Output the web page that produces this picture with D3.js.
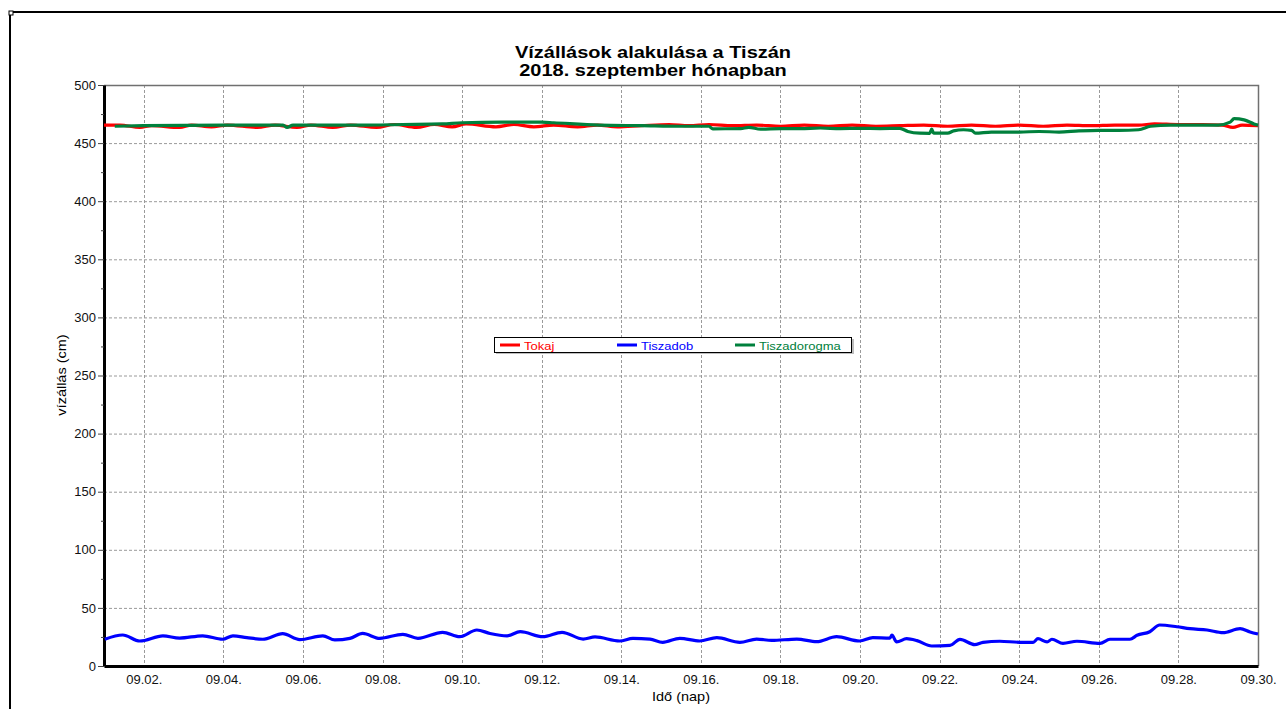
<!DOCTYPE html>
<html>
<head>
<meta charset="utf-8">
<script src="https://cdn.jsdelivr.net/npm/d3@7"></script>
<style>
  body { margin: 0; background: #fff; }
  svg { display: block; font-family: Arial, "Liberation Sans", sans-serif; }
</style>
</head>
<body>
<div id="main"></div>
<script>
// chart texts
const titleLines = ['Vízállások alakulása a Tiszán', '2018. szeptember hónapban'];
const yLabel = 'vízállás (cm)';
const xLabel = 'Idő (nap)';
const seriesNames = ['Tokaj', 'Tiszadob', 'Tiszadorogma'];
const seriesColors = ['#ff0000', '#0000ff', '#00803c'];
// tick labels
const xTickLabels = ['09.02.', '09.04.', '09.06.', '09.08.', '09.10.', '09.12.', '09.14.',
  '09.16.', '09.18.', '09.20.', '09.22.', '09.24.', '09.26.', '09.28.', '09.30.'];
const yTicks = [0, 50, 100, 150, 200, 250, 300, 350, 400, 450, 500];
const yMinorTicks = [25, 75, 125, 175, 225, 275, 325, 375, 425, 475];

// Tokaj: days since 09.01. 00:00, water level (cm)
const tokajDay = [0, 0.4, 0.9, 1.2, 1.9, 2.2, 2.7, 3.1, 3.85, 4.3, 4.85, 5.2, 5.75, 6.2, 6.85,
  7.3, 7.85, 8.3, 8.75, 9.1, 9.85, 10.3, 10.8, 11.3, 11.9, 12.4, 12.9, 13.5, 14.2, 14.7, 15.2,
  15.8, 16.4, 17.0, 17.6, 18.2, 18.8, 19.4, 20.0, 20.6, 21.2, 21.8, 22.4, 23.0, 23.6, 24.2,
  24.8, 25.4, 26.0, 26.4, 27.0, 27.6, 28.1, 28.37, 28.6, 29.0];
const tokajLevel = [465.5, 465.5, 463.5, 465, 463.5, 465.5, 464, 465.5, 463.5, 465.5, 463.5, 465.5, 463.5, 465.5, 463.5,
  466, 463.5, 466, 464, 466.5, 464, 466, 464, 465.5, 464, 465.5, 464, 465, 466, 465, 466,
  465, 465.5, 464.5, 465.5, 464.5, 465.5, 464.5, 465, 465.5, 464.5, 465.5, 464.5, 465.5, 464.5, 465.5,
  465, 465.5, 465.5, 466.5, 466, 466, 465.5, 463.5, 465.5, 465];

// Tiszadob
const tiszadobDay = [0.02, 0.47, 0.90, 1.48, 1.90, 2.48, 2.98, 3.24, 3.59, 3.99, 4.49, 4.92, 5.50,
  5.80, 6.18, 6.50, 6.93, 7.51, 7.89, 8.51, 8.94, 9.37, 9.70, 10.13, 10.46, 11.03, 11.51, 12.04,
  12.34, 12.96, 13.29, 13.72, 14.04, 14.47, 14.97, 15.40, 15.98, 16.40, 16.78, 17.41, 17.91,
  18.41, 18.99, 19.32, 19.75, 19.80, 19.92, 20.17, 20.43, 20.80, 21.26, 21.51, 21.88, 22.09,
  22.51, 23.02, 23.35, 23.47, 23.70, 23.82, 24.10, 24.45, 25.03, 25.28, 25.78, 25.96, 26.28,
  26.53, 26.96, 27.29, 27.72, 28.12, 28.55, 28.80, 29.00];
const tiszadobLevel = [23, 26.7, 21.5, 26, 24, 26, 23, 26, 24.4, 23, 27.8, 22.7, 26,
  22.4, 23.8, 28, 23.8, 27.3, 23.8, 29, 25.2, 31, 28, 26, 29.5, 25.2, 29, 23.2,
  25, 21.5, 23.8, 23.2, 20.4, 23.8, 21.5, 24.4, 20.4, 23.2, 22, 23.2, 21,
  25.2, 21.5, 24.4, 24, 26.5, 20.7, 23.5, 21.8, 17.2, 17.8, 22.9, 18.4, 20.4,
  21.3, 20.4, 20.4, 23.5, 20.7, 23, 19.5, 21.3, 19.5, 23, 23, 26.4, 29.5,
  35.3, 33.8, 32.1, 31, 28.7, 32.1, 29.3, 27.5];

// Tiszadorogma
const tiszadorogmaDay = [0.27, 1, 2, 3, 4, 4.5, 4.6, 4.75, 5.5, 6.5, 7.5, 8.5, 9, 10, 11, 11.3,
  12.45, 13.5, 14.5, 15.2, 15.3, 16, 16.2, 16.5, 17, 17.5, 18, 18.5, 19, 19.5, 20.0, 20.2, 20.5,
  20.75, 20.8, 20.85, 21.2, 21.35, 21.6, 21.8, 21.9, 22.3, 23, 23.5, 24, 24.5, 25, 25.5, 26,
  26.3, 26.8, 27.5, 28, 28.3, 28.4, 28.65, 28.9, 29];
const tiszadorogmaLevel = [464.5, 465, 465.3, 465.5, 465.5, 465.5, 463.5, 465.5, 465.5, 465.5, 466, 466.5, 467.5, 468, 468, 467.5,
  465.5, 465, 464.5, 464.5, 462.3, 462.5, 463.5, 462, 462.5, 462.5, 463, 462.5, 462.7, 462.5, 462.7, 460, 458.5,
  458.4, 462, 458.5, 458.5, 460.5, 461.5, 461, 458.5, 459.5, 459.5, 460, 459.5, 460.5, 461, 461, 461.5,
  464.5, 465.5, 465.5, 465.5, 468, 471, 470, 466.5, 465.5];

function main() {
  const width = 1286;
  const height = 709;
  const left = 104;
  const right = 1258;
  const top = 85;
  const bottom = 666;
  const start = new Date(2018, 8, 1);
  const toDate = d => new Date(start.getTime() + d * 864e5);

  const xScale = d3.scaleTime()
    .domain([start, toDate(29)])
    .range([left, right]);
  const yScale = d3.scaleLinear()
    .domain([0, 500])
    .range([bottom, top]);

  const tickDates = xTickLabels.map(s => new Date(2018, +s.slice(0, 2) - 1, +s.slice(3, 5)));

  const svg = d3.select('#main')
    .append('svg')
    .attr('width', width)
    .attr('height', height);

  // outer frame
  svg.append('path')
    .attr('d', `M10,${height} V12 H${width}`)
    .attr('fill', 'none')
    .attr('stroke', '#000')
    .attr('stroke-width', 2);
  svg.append('rect')
    .attr('x', 9).attr('y', 11).attr('width', 4).attr('height', 4)
    .attr('fill', '#fff').attr('stroke', '#000').attr('stroke-width', 1);

  // grid
  svg.append('g')
    .selectAll('line')
    .data(yTicks.filter(v => v > 0 && v < 500))
    .enter()
    .append('line')
    .attr('x1', left).attr('x2', right)
    .attr('y1', d => yScale(d) + 0.5).attr('y2', d => yScale(d) + 0.5)
    .attr('stroke', '#9a9a9a')
    .attr('stroke-dasharray', '3,2');
  svg.append('g')
    .selectAll('line')
    .data(tickDates.slice(0, -1))
    .enter()
    .append('line')
    .attr('x1', d => Math.round(xScale(d)) + 0.5).attr('x2', d => Math.round(xScale(d)) + 0.5)
    .attr('y1', top).attr('y2', bottom)
    .attr('stroke', '#9a9a9a')
    .attr('stroke-dasharray', '3,2');
  // top and right border
  svg.append('path')
    .attr('d', `M${left},${top + 0.5} H${right + 0.5} V${bottom}`)
    .attr('fill', 'none')
    .attr('stroke', '#707070')
    .attr('stroke-width', 1.5);

  // y axis
  const yAxis = d3.axisLeft(yScale)
    .tickValues(yTicks)
    .tickSizeInner(6)
    .tickSizeOuter(0)
    .tickPadding(2);
  const gy = svg.append('g')
    .attr('transform', `translate(${left}, 0)`)
    .call(yAxis);
  gy.select('.domain').attr('stroke', '#000').attr('stroke-width', 3);
  gy.selectAll('.tick line').attr('stroke', '#444');
  gy.selectAll('.tick text').style('font-size', '13px').attr('fill', '#111');
  gy.selectAll('.minor')
    .data(yMinorTicks)
    .enter()
    .append('line')
    .attr('x1', -3).attr('x2', 0)
    .attr('y1', d => yScale(d) + 0.5).attr('y2', d => yScale(d) + 0.5)
    .attr('stroke', '#444');

  // x axis
  const xAxis = d3.axisBottom(xScale)
    .tickValues(tickDates)
    .tickFormat((d, i) => xTickLabels[i])
    .tickSizeInner(0)
    .tickSizeOuter(0)
    .tickPadding(9);
  const gx = svg.append('g')
    .attr('transform', `translate(0, ${bottom})`)
    .call(xAxis);
  gx.select('.domain').attr('stroke', '#000').attr('stroke-width', 3);
  gx.selectAll('.tick text').style('font-size', '13px').attr('fill', '#111');

  // series lines
  const series = [
    { day: tokajDay, level: tokajLevel },
    { day: tiszadobDay, level: tiszadobLevel },
    { day: tiszadorogmaDay, level: tiszadorogmaLevel }
  ];
  const line = d3.line()
    .x(d => xScale(toDate(d[0])))
    .y(d => yScale(d[1]))
    .curve(d3.curveMonotoneX);
  series.forEach((s, i) => {
    svg.append('path')
      .datum(s.day.map((d, j) => [d, s.level[j]]))
      .attr('d', line)
      .attr('fill', 'none')
      .attr('stroke', seriesColors[i])
      .attr('stroke-width', 3.2)
      .attr('stroke-linejoin', 'round');
  });

  // title (wide, slightly flattened lettering as in the original)
  titleLines.forEach((t, i) => {
    svg.append('text')
      .attr('transform', `translate(653, ${58.3 + i * 17.4}) scale(1, 0.82)`)
      .style('font-size', '20px')
      .style('font-weight', 'bold')
      .style('text-anchor', 'middle')
      .text(t);
  });

  // axis labels
  svg.append('text')
    .attr('transform', 'translate(66, 375) rotate(-90) scale(1, 0.85)')
    .style('font-size', '14.5px')
    .style('text-anchor', 'middle')
    .text(yLabel);
  svg.append('text')
    .attr('transform', 'translate(681, 701) scale(1, 0.85)')
    .style('font-size', '14.5px')
    .style('text-anchor', 'middle')
    .text(xLabel);

  // legend
  const legend = svg.append('g');
  legend.append('rect')
    .attr('x', 496).attr('y', 339).attr('width', 358).attr('height', 15)
    .attr('fill', '#bdbdbd');
  legend.append('rect')
    .attr('x', 494.5).attr('y', 337.5).attr('width', 357).attr('height', 15)
    .attr('fill', '#fff').attr('stroke', '#000');
  const legendX = [500, 617, 735];
  seriesNames.forEach((name, i) => {
    legend.append('line')
      .attr('x1', legendX[i]).attr('x2', legendX[i] + 20)
      .attr('y1', 345).attr('y2', 345)
      .attr('stroke', seriesColors[i])
      .attr('stroke-width', 3);
    legend.append('text')
      .attr('transform', `translate(${legendX[i] + 24}, 349.5) scale(1, 0.85)`)
      .attr('fill', seriesColors[i])
      .style('font-size', '13px')
      .text(name);
  });
}

document.addEventListener('DOMContentLoaded', main);
</script>
</body>
</html>
